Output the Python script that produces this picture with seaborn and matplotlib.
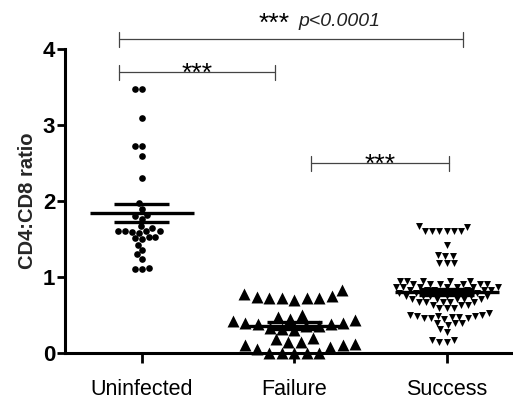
import numpy as np
import pandas as pd
import matplotlib
matplotlib.use("Agg")
import matplotlib.pyplot as plt
import seaborn as sns

# ---- data ----
groups = ["Uninfected", "Failure", "Success"]

uninfected = [3.48, 3.48, 3.09, 2.72, 2.72, 2.59, 2.30, 1.98, 1.90, 1.82, 1.80,
              1.76, 1.67, 1.64, 1.60, 1.60, 1.60, 1.60, 1.59, 1.58, 1.53, 1.52,
              1.51, 1.50, 1.42, 1.35, 1.30, 1.24, 1.12, 1.11, 1.10]

failure = [0.72, 0.77, 0.70, 0.72, 0.83, 0.75, 0.72, 0.74, 0.73,
           0.32, 0.35, 0.38, 0.40, 0.42, 0.45, 0.48, 0.50, 0.44, 0.36, 0.33,
           0.30, 0.40, 0.38,
           0.00, 0.00, 0.00, 0.00, 0.00, 0.05, 0.08, 0.10, 0.12, 0.15, 0.18,
           0.20, 0.10, 0.14]

success = ([1.67, 1.66, 1.60, 1.60, 1.60, 1.60, 1.61, 1.60, 1.42,
            1.29, 1.28, 1.28, 1.19, 1.19, 1.19]
           + [0.95] * 5 + [0.91] * 6 + [0.87] * 7 + [0.83] * 6 + [0.79] * 6
           + [0.75] * 6 + [0.71] * 5 + [0.67] * 5 + [0.63] * 3 + [0.59] * 3
           + [0.52, 0.50, 0.49, 0.47, 0.46, 0.46, 0.45, 0.46, 0.48, 0.49, 0.50,
              0.49, 0.40, 0.40, 0.39, 0.37, 0.32, 0.28, 0.17, 0.15, 0.15, 0.17])

yticks = [0, 1, 2, 3, 4]
ylabel = "CD4:CD8 ratio"
pvalue_text = "p<0.0001"

# ---- build frame ----
values = {"Uninfected": uninfected, "Failure": failure, "Success": success}
df = pd.concat([pd.DataFrame({"group": g, "value": v}) for g, v in values.items()],
               ignore_index=True)

sns.set_theme(style="ticks")
plt.rcParams["font.family"] = ["Liberation Sans", "DejaVu Sans"]

fig = plt.figure(figsize=(5.13, 4.03), dpi=100)
ax = fig.add_axes([65 / 513, 50 / 403, 448 / 513, 304 / 403])

styles = {"Uninfected": ("o", 4.8), "Failure": ("^", 8.6), "Success": ("v", 5.0)}
for g in groups:
    m, s = styles[g]
    sns.swarmplot(data=df[df.group == g], x="group", y="value", order=groups,
                  marker=m, size=s, color="black", linewidth=0,
                  ax=ax, clip_on=False, zorder=3, warn_thresh=1.0)

# mean +/- SEM
for i, g in enumerate(groups):
    v = np.asarray(values[g])
    mean = v.mean()
    sem = v.std(ddof=1) / np.sqrt(len(v))
    ax.hlines(mean, i - 0.34, i + 0.34, color="black", lw=2.4, zorder=5)
    ax.hlines([mean - sem, mean + sem], i - 0.18, i + 0.18, color="black",
              lw=2.4, zorder=5)

ax.set_xlim(-0.503, 2.435)
ax.set_ylim(0, 4)
ax.set_yticks(yticks)
ax.set_yticklabels([str(t) for t in yticks], fontsize=16, fontweight="bold")
ax.set_xticks(range(len(groups)))
ax.set_xticklabels(groups, fontsize=15.5)
ax.set_xlabel("")
ax.set_ylabel(ylabel, fontsize=14.5, fontweight="bold", labelpad=4)

for side in ["top", "right"]:
    ax.spines[side].set_visible(False)
for side in ["left", "bottom"]:
    ax.spines[side].set_linewidth(2.2)
    ax.spines[side].set_color("black")
ax.tick_params(axis="y", direction="out", length=6, width=2, pad=1, colors="black")
ax.tick_params(axis="x", direction="out", length=7, width=2, pad=12, colors="black")

# significance brackets: (x0, x1, height, label)
brackets = [(-0.149, 2.108, 4.13, None), (-0.149, 0.874, 3.70, "***"),
            (1.11, 2.015, 2.50, "***")]
bc = "#444444"
for x0, x1, h, lab in brackets:
    ax.plot([x0, x1], [h, h], color=bc, lw=0.9, clip_on=False)
    for xx in (x0, x1):
        ax.plot([xx, xx], [h - 0.11, h + 0.09], color=bc, lw=0.9, clip_on=False)
    if lab:
        ax.text((x0 + x1) / 2, h - 0.12, lab, ha="center", va="baseline",
                fontsize=19, color="black", clip_on=False)

ax.text(0.97, 4.24, "***", ha="right", va="baseline", fontsize=19, color="black")
ax.text(1.03, 4.30, pvalue_text, ha="left", va="baseline", fontsize=14,
        style="italic", color="#222222")

fig.savefig("out.png", dpi=100)
